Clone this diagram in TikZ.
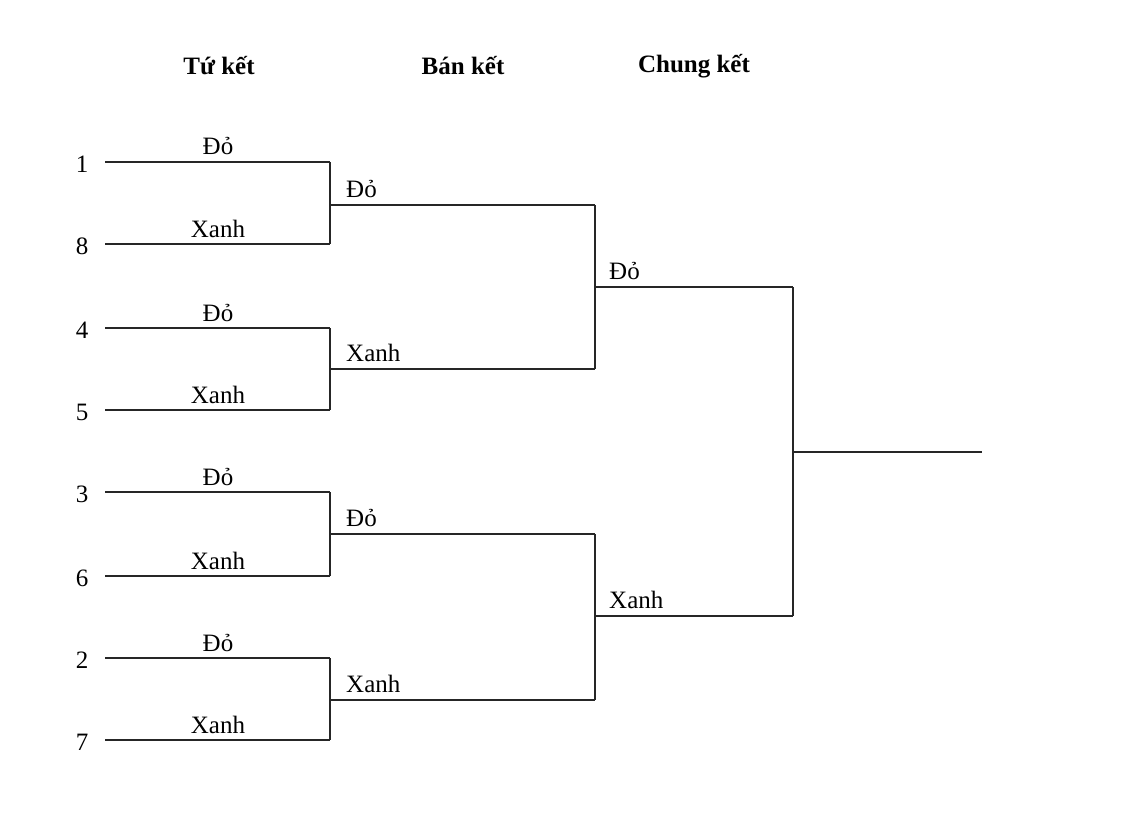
\documentclass[tikz,border=0pt]{standalone}
\usepackage{fontspec}
\setmainfont{Liberation Serif}
\begin{document}
\begin{tikzpicture}[x=1pt,y=-1pt,
  lbl/.style={font=\fontsize{25}{28}\selectfont,inner sep=0pt},
  hdr/.style={font=\fontsize{25}{28}\selectfont\bfseries,inner sep=0pt},
  ln/.style={line width=1.4pt,black!85}]
\useasboundingbox (0,0) rectangle (1130,824);
\node[hdr] (h1) at (219,66) {Tứ kết};
\node[hdr] (h2) at (463,66) {Bán kết};
\node[hdr] (h3) at (694,66) {Chung kết};
% quarter-final lines
\foreach \s/\y/\t [count=\i] in {1/162/Đỏ,8/244/Xanh,4/328/Đỏ,5/410/Xanh,3/492/Đỏ,6/576/Xanh,2/658/Đỏ,7/740/Xanh}{
  \coordinate (qa\i) at (105,\y);
  \coordinate (qb\i) at (330,\y);
  \node[lbl] (seed\i) at (82,\y+2) {\s};
  \node[lbl,anchor=base] (ql\i) at (218,\y-7) {\t};
  \draw[ln] (qa\i) -- (qb\i);
}
% semi-final lines
\foreach \y/\t [count=\i] in {205/Đỏ,369/Xanh,534/Đỏ,700/Xanh}{
  \coordinate (sa\i) at (330,\y);
  \coordinate (sb\i) at (595,\y);
  \node[lbl,anchor=base west] (sl\i) at (346,\y-8) {\t};
  \draw[ln] (sa\i) -- (sb\i);
}
\draw[ln] (qb1) -- (qb2); \draw[ln] (qb3) -- (qb4);
\draw[ln] (qb5) -- (qb6); \draw[ln] (qb7) -- (qb8);
% final lines
\foreach \y/\t [count=\i] in {287/Đỏ,616/Xanh}{
  \coordinate (fa\i) at (595,\y);
  \coordinate (fb\i) at (793,\y);
  \node[lbl,anchor=base west] (fl\i) at (609,\y-8) {\t};
  \draw[ln] (fa\i) -- (fb\i);
}
\draw[ln] (sb1) -- (sb2); \draw[ln] (sb3) -- (sb4);
\draw[ln] (fb1) -- (fb2);
\coordinate (wa) at (793,452);
\coordinate (wb) at (982,452);
\draw[ln] (wa) -- (wb);
\end{tikzpicture}
\end{document}
